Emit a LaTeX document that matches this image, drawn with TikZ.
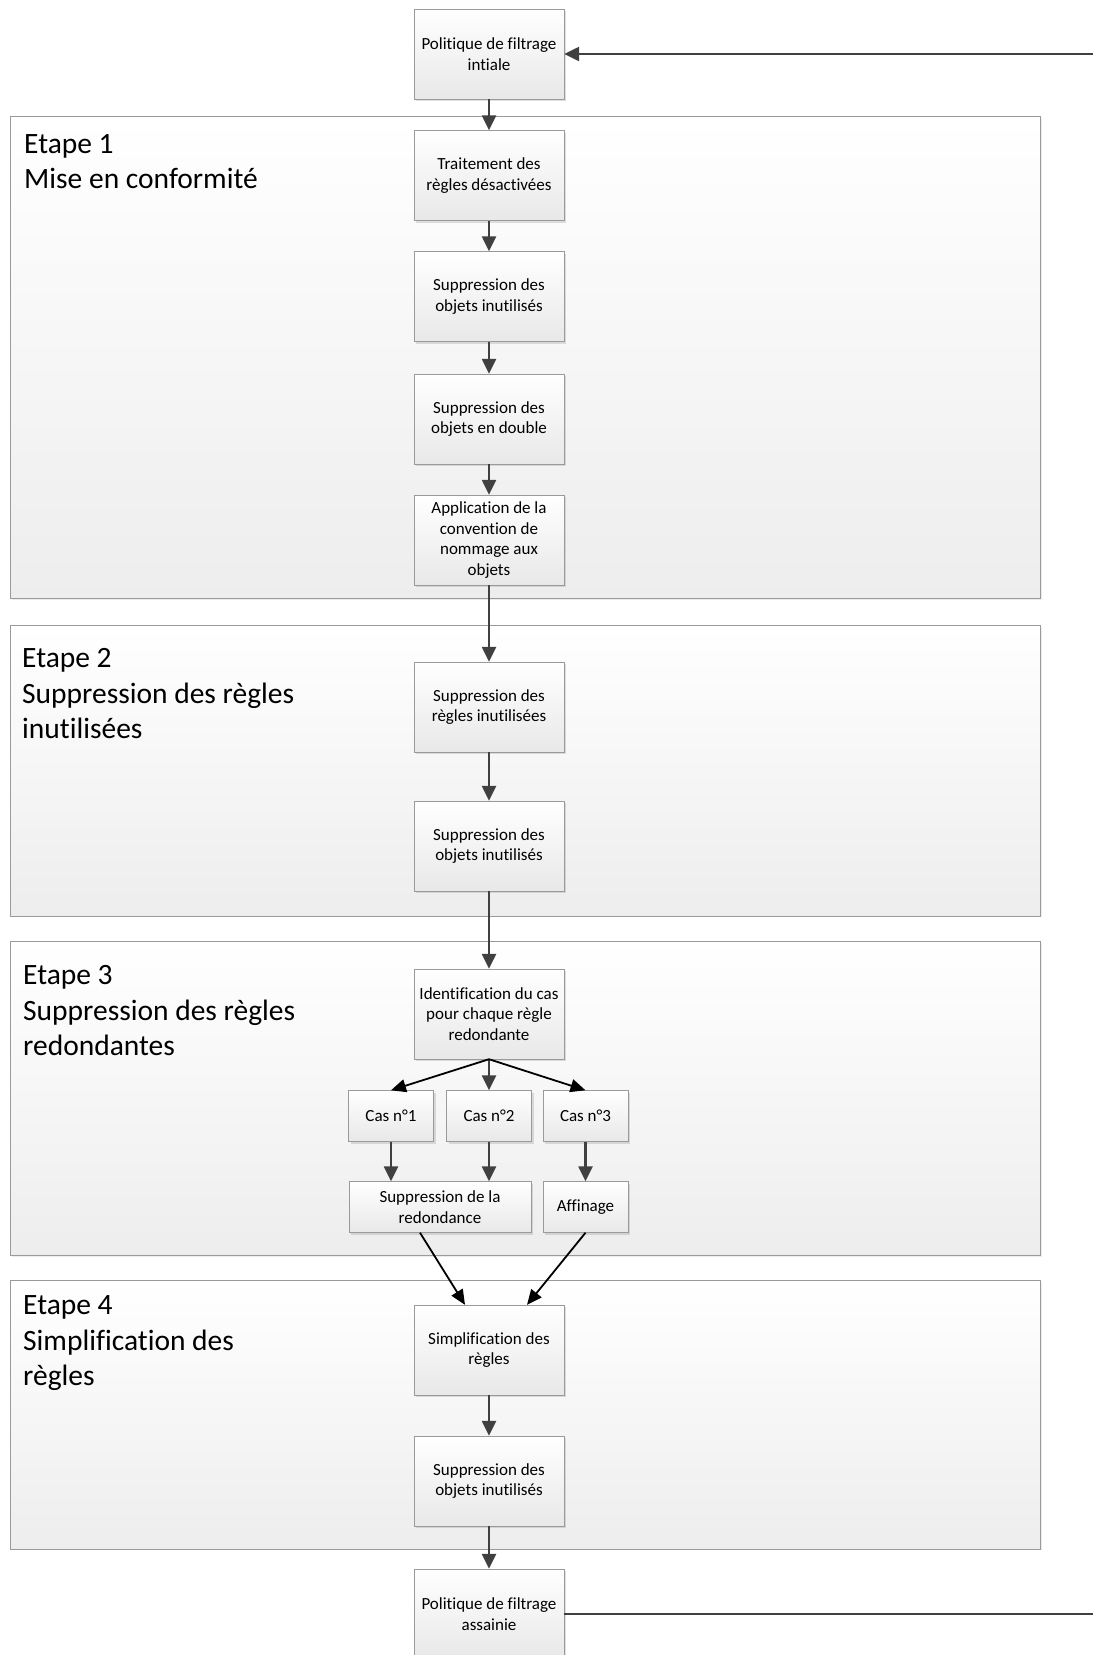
\documentclass[tikz,border=0pt]{standalone}
\usepackage{fontspec}
\setmainfont{Carlito}[Ligatures=NoCommon]
\usepackage{tikz}
\usetikzlibrary{arrows.meta,shapes,shadows}
\definecolor{cadre}{HTML}{9A9A9A}
\definecolor{trait}{HTML}{404040}
\tikzstyle{bloc}=[rectangle, draw=cadre
,top color=white, bottom color=black!9
,drop shadow={shadow xshift=2pt,shadow yshift=-2pt,opacity=.25}
,minimum width=150pt, minimum height=90pt
,align=center, inner sep=0pt
,font=\fontsize{17}{20.5}\selectfont
]
\tikzstyle{petit}=[bloc, minimum width=85pt, minimum height=51pt]
\tikzstyle{etape}=[draw=cadre, top color=white, bottom color=black!7
,drop shadow={shadow xshift=1.5pt,shadow yshift=-1.5pt,opacity=.15}]
\tikzstyle{titre}=[anchor=north west, align=left, inner sep=0pt
,font=\fontsize{29.5}{35.5}\selectfont]
\tikzstyle{edge} = [draw, line width=2.4pt, trait, -{Triangle[length=15pt,width=14pt]}]
\tikzstyle{edge noir} = [draw, line width=1.8pt, black, -{Triangle[length=15pt,width=13pt]}]

\begin{document}
\begin{tikzpicture}[x=1pt,y=-1pt]
    \useasboundingbox (0,0) rectangle (1093,1655);
    % Draw the four steps first
    \foreach \haut/\bas in {116/598, 625.6/915.7, 941/1255.5, 1280/1548.7}
        \path[etape] (10.5,\haut) rectangle (1040,\bas);
    \node[titre] (t1) at (24,134) {Etape 1\\Mise en conformité};
    \node[titre] (t2) at (22,648.5) {Etape 2\\Suppression des règles\\inutilisées};
    \node[titre] (t3) at (23,965.5) {Etape 3\\Suppression des règles\\redondantes};
    \node[titre] (t4) at (23,1295.5) {Etape 4\\Simplification des\\règles};

    % Then the boxes
    \foreach \pos/\name/\texte in {{(489,54)/init/Politique de filtrage\\intiale},
        {(489,175.5)/r1/Traitement des\\règles désactivées},
        {(489,296.5)/o1/Suppression des\\objets inutilisés},
        {(489,419)/d1/Suppression des\\objets en double},
        {(489,540)/a1/Application de la\\convention de\\nommage aux\\objets},
        {(489,707)/r2/Suppression des\\règles inutilisées},
        {(489,846)/o2/Suppression des\\objets inutilisés},
        {(489,1014)/id3/Identification du cas\\pour chaque règle\\redondante},
        {(489,1350)/s4/Simplification des\\règles},
        {(489,1481)/o4/Suppression des\\objets inutilisés},
        {(489,1614)/fin/Politique de filtrage\\assainie}}
        \node[bloc] (\name) at \pos {\texte};
    \foreach \pos/\name/\texte in {{(391,1116)/c1/Cas n°1}, {(489,1116)/c2/Cas n°2},
        {(585.5,1116)/c3/Cas n°3}, {(585.5,1207)/af/Affinage}}
        \node[petit] (\name) at \pos {\texte};
    \node[petit, minimum width=182pt] (sr) at (440,1207) {Suppression de la\\redondance};

    % Connect boxes with arrows
    \foreach \source/\dest in {init/r1, r1/o1, o1/d1, d1/a1, a1/r2, r2/o2, o2/id3,
        id3/c2, c3/af, s4/o4, o4/fin}
        \path[edge] (\source) -- (\dest);
    \foreach \source in {c1, c2}
        \path[edge] (\source) -- (\source |- sr.north);
    \path[edge noir] (id3.south) -- (c1.north);
    \path[edge noir] (id3.south) -- (c3.north);
    \path[edge noir] ([xshift=-20pt]sr.south) -- ([xshift=-24pt]s4.north);
    \path[edge noir] (af.south) -- ([xshift=38pt]s4.north);

    % loop back to the start
    \coordinate (retour haut) at (1093,54);
    \coordinate (retour bas) at (1093,1614);
    \path[edge] (retour haut) -- (init);
    \draw[line width=2.4pt, trait] (fin) -- (retour bas);
\end{tikzpicture}
\end{document}
